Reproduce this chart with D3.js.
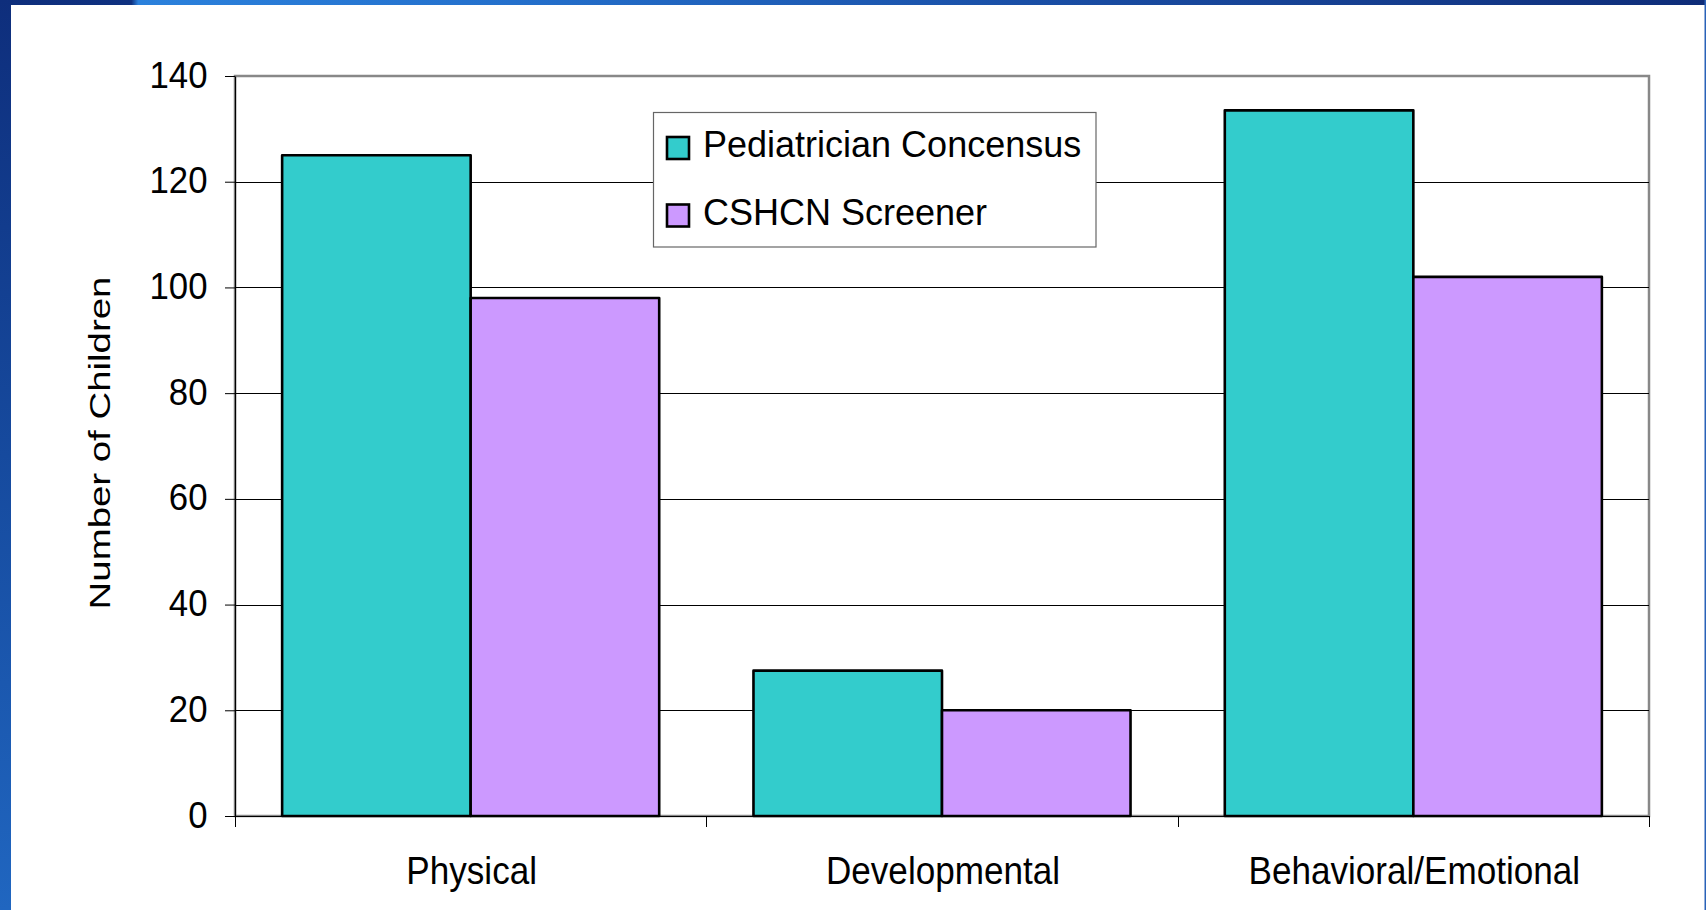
<!DOCTYPE html>
<html>
<head>
<meta charset="utf-8">
<script src="https://cdn.jsdelivr.net/npm/d3@7"></script>
<style>
  html, body { margin: 0; padding: 0; background: #ffffff; }
  svg { display: block; }
  text { font-family: "Liberation Sans", Arial, sans-serif; fill: #000; }
</style>
</head>
<body>
<svg id="chart" width="1706" height="910"></svg>
<script>
// Children identified per condition type, by method
const categories = ["Physical", "Developmental", "Behavioral/Emotional"];
const seriesNames = ["Pediatrician Concensus", "CSHCN Screener"];
const pediatricianValues = [125, 27.5, 133.5];
const screenerValues = [98, 20, 102];
const yTicks = [0, 20, 40, 60, 80, 100, 120, 140];
const seriesColors = ["#33CCCC", "#CC99FF"];

const W = 1706, H = 910;
const plot = { left: 235, right: 1649, top: 76, bottom: 816 };

const svg = d3.select("#chart");
const defs = svg.append("defs");

// Slide frame: blue bands along the left and top edges
const gTop = defs.append("linearGradient").attr("id", "topBand")
  .attr("x1", 0).attr("x2", 1).attr("y1", 0).attr("y2", 0);
[[0, "#0e2e7c"], [0.077, "#0f3180"], [0.081, "#2b81dc"], [0.3, "#2470cc"],
 [0.6, "#1a4fa6"], [0.8, "#163f90"], [1, "#0e2c78"]]
  .forEach(([o, c]) => gTop.append("stop").attr("offset", o).attr("stop-color", c));
const gLeft = defs.append("linearGradient").attr("id", "leftBand")
  .attr("x1", 0).attr("x2", 0).attr("y1", 0).attr("y2", 1);
[[0, "#0e2e7c"], [0.5, "#164a9e"], [1, "#2066c0"]]
  .forEach(([o, c]) => gLeft.append("stop").attr("offset", o).attr("stop-color", c));

svg.append("rect").attr("width", W).attr("height", H).attr("fill", "#ffffff");
svg.append("rect").attr("x", 0).attr("y", 0).attr("width", W).attr("height", 5).attr("fill", "url(#topBand)");
svg.append("rect").attr("x", 0).attr("y", 0).attr("width", 11).attr("height", H).attr("fill", "url(#leftBand)");
svg.append("rect").attr("x", W - 1.5).attr("y", 0).attr("width", 1.5).attr("height", H).attr("fill", "#2a62b8");

// Scales
const y = d3.scaleLinear().domain([0, 140]).range([plot.bottom, plot.top]);
const x0 = d3.scaleBand().domain(categories).range([plot.left, plot.right]).paddingInner(0).paddingOuter(0);
const x1 = d3.scaleBand().domain(seriesNames).range([0, x0.bandwidth()]).paddingInner(0).paddingOuter(0.25);

// Plot area frame
svg.append("rect")
  .attr("x", plot.left).attr("y", plot.top)
  .attr("width", plot.right - plot.left).attr("height", plot.bottom - plot.top)
  .attr("fill", "#ffffff").attr("stroke", "#888888").attr("stroke-width", 2.5);

// Horizontal gridlines
svg.append("g")
  .selectAll("line")
  .data(yTicks.filter(t => t > 0 && t < 140))
  .join("line")
  .attr("x1", plot.left).attr("x2", plot.right)
  .attr("y1", d => Math.round(y(d)) + 0.5).attr("y2", d => Math.round(y(d)) + 0.5)
  .attr("stroke", "#000").attr("stroke-width", 1);

// Bars
const rows = categories.map((c, i) => ({
  category: c,
  values: [pediatricianValues[i], screenerValues[i]]
}));
const groups = svg.append("g").selectAll("g")
  .data(rows).join("g")
  .attr("transform", d => `translate(${x0(d.category)},0)`);
groups.selectAll("rect")
  .data(d => d.values.map((v, j) => ({ series: seriesNames[j], value: v, j })))
  .join("rect")
  .attr("x", d => x1(d.series))
  .attr("width", x1.bandwidth())
  .attr("y", d => y(d.value))
  .attr("height", d => y(0) - y(d.value))
  .attr("fill", d => seriesColors[d.j])
  .attr("stroke", "#000").attr("stroke-width", 2.6)
  .attr("stroke-linejoin", "round");

// Y axis
const yAxis = d3.axisLeft(y).tickValues(yTicks).tickSize(10).tickSizeOuter(0).tickPadding(0);
const gy = svg.append("g").attr("transform", `translate(${plot.left},0)`).call(yAxis);
gy.select(".domain").attr("stroke", "#000").attr("stroke-width", 1.2);
gy.selectAll(".tick line").attr("stroke", "#000");
gy.selectAll(".tick text")
  .attr("x", 0).attr("y", 0).attr("dy", null)
  .attr("text-anchor", "end")
  .attr("font-family", "'Liberation Sans', Arial, sans-serif")
  .attr("font-size", 37)
  .attr("transform", "translate(-27.5,11) scale(0.94,1)");

// X axis with ticks at category boundaries
const xAxis = d3.axisBottom(x0).tickSize(0).tickSizeOuter(0).tickPadding(0);
const gx = svg.append("g").attr("transform", `translate(0,${plot.bottom})`).call(xAxis);
gx.select(".domain").attr("stroke", "#000").attr("stroke-width", 1.2);
gx.selectAll(".tick text")
  .attr("x", 0).attr("y", 0).attr("dy", null)
  .attr("text-anchor", "middle")
  .attr("font-family", "'Liberation Sans', Arial, sans-serif")
  .attr("font-size", 39)
  .attr("transform", "translate(1,68) scale(0.9,1)");
const boundaries = categories.map(c => x0(c)).concat([x0.range()[1]]);
svg.append("g").selectAll("line")
  .data(boundaries).join("line")
  .attr("x1", d => Math.round(d) + 0.5).attr("x2", d => Math.round(d) + 0.5)
  .attr("y1", plot.bottom).attr("y2", plot.bottom + 11)
  .attr("stroke", "#000").attr("stroke-width", 1);

// Axis title
svg.append("text")
  .attr("transform", `translate(110,${(plot.top + plot.bottom) / 2 - 3}) rotate(-90) scale(1.28,1)`)
  .attr("text-anchor", "middle")
  .attr("font-size", 30)
  .text("Number of Children");

// Legend
const legend = svg.append("g").attr("transform", "translate(653.5,112.5)");
legend.append("rect")
  .attr("width", 442.5).attr("height", 134.5)
  .attr("fill", "#ffffff").attr("stroke", "#666666").attr("stroke-width", 1.2);
const items = legend.selectAll("g.item")
  .data(seriesNames).join("g").attr("class", "item")
  .attr("transform", (d, i) => `translate(0,${i * 67.5})`);
items.append("rect")
  .attr("x", 13.5).attr("y", 24.5).attr("width", 22).attr("height", 22)
  .attr("fill", (d, i) => seriesColors[i])
  .attr("stroke", "#000").attr("stroke-width", 2.6);
items.append("text")
  .attr("x", 49.5).attr("y", 44.5)
  .attr("font-size", 36)
  .text(d => d);
</script>
</body>
</html>
